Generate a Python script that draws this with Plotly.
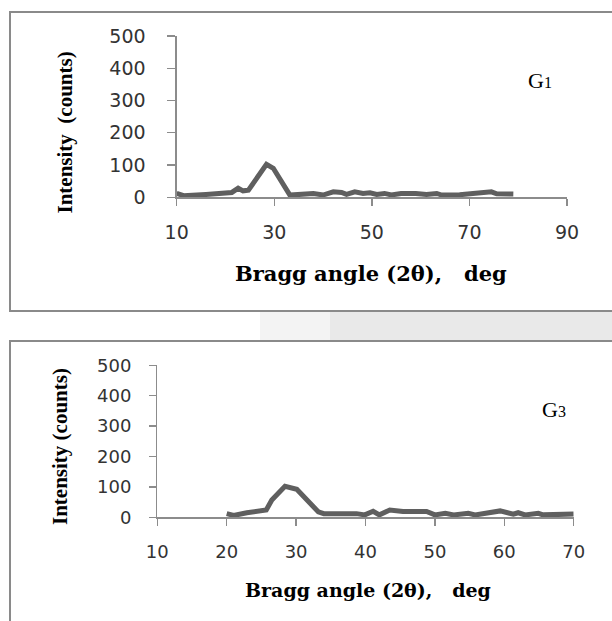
import plotly.graph_objects as go

# ---- data ----
g1_angle = [10, 11.4, 16, 21.3, 22.6, 23.6, 24.7, 26.4, 28.4, 29.8, 31.2, 33.2, 38, 40,
            42.1, 43.8, 44.8, 46.5, 48.2, 49.6, 51, 52.6, 54, 56, 59, 61.2, 63.3, 64.3,
            68, 71.5, 73.5, 74.5, 75.6, 79]
g1_counts = [12, 5, 9, 15, 28, 20, 22, 59, 102, 90, 54, 7, 12, 7,
             17, 15, 9, 17, 12, 14, 9, 12, 7, 12, 12, 9, 12, 7,
             8, 11, 14, 17, 11, 10]

g3_angle = [20, 21, 22.9, 24.3, 25.7, 26.5, 28.4, 30.1, 31.5, 33.2, 34, 37.8, 38.7, 39.9,
            41.1, 42, 43.5, 45.4, 48.8, 50, 51.5, 52.7, 54.8, 55.8, 57.9, 59.4, 61.3, 62,
            63, 64.9, 65.6, 70]
g3_counts = [12, 6, 15, 21, 24, 57, 102, 92, 57, 18, 12, 13, 12, 8,
             20, 8, 24, 19, 19, 8, 13, 8, 13, 8, 15, 21, 10, 15,
             8, 13, 8, 11]

top_xticks = [10, 30, 50, 70, 90]
bottom_xticks = [10, 20, 30, 40, 50, 60, 70]
yticks = [0, 100, 200, 300, 400, 500]

x_title = "Bragg angle (2θ),\u00a0\u00a0 deg"
y_title_top = "Intensity\u00a0 (counts)"
y_title_bottom = "Intensity (counts)"

W, H = 612, 621
def px(x):
    return x / W
def py(y):
    return 1 - y / H

LINE = "#5f5f5f"
AX = "#8c8c8c"
TICKFONT = "DejaVu Sans"

fig = go.Figure()
fig.add_trace(go.Scatter(x=g1_angle, y=g1_counts, mode="lines",
                         line=dict(color=LINE, width=5), xaxis="x", yaxis="y",
                         showlegend=False, hoverinfo="skip"))
fig.add_trace(go.Scatter(x=g3_angle, y=g3_counts, mode="lines",
                         line=dict(color=LINE, width=5), xaxis="x2", yaxis="y2",
                         showlegend=False, hoverinfo="skip"))

common_axis = dict(showgrid=False, zeroline=False, showline=True, linecolor=AX,
                   linewidth=1.3, ticks="outside", tickcolor=AX, tickwidth=1.3,
                   automargin=False, fixedrange=True)

fig.update_layout(
    width=W, height=H, autosize=False, showlegend=False,
    margin=dict(l=0, r=0, t=0, b=0, pad=0, autoexpand=False),
    paper_bgcolor="white", plot_bgcolor="rgba(0,0,0,0)",
    xaxis=dict(domain=[px(176.7), px(567)], range=[10, 90], tickvals=top_xticks,
               ticklen=7, ticklabelstandoff=11,
               tickfont=dict(family=TICKFONT, size=19, color="#333"),
               anchor="y", **common_axis),
    yaxis=dict(domain=[py(197.3), py(36)], range=[0, 500], tickvals=yticks,
               ticklen=8, ticklabelstandoff=18,
               tickfont=dict(family=TICKFONT, size=19, color="#333"),
               anchor="x", **common_axis),
    xaxis2=dict(domain=[px(157.3), px(573.7)], range=[10, 70], tickvals=bottom_xticks,
                ticklen=7, ticklabelstandoff=11,
                tickfont=dict(family=TICKFONT, size=18, color="#333"),
                anchor="y2", **common_axis),
    yaxis2=dict(domain=[py(517.3), py(365.3)], range=[0, 500], tickvals=yticks,
                ticklen=7, ticklabelstandoff=14,
                tickfont=dict(family=TICKFONT, size=18, color="#333"),
                anchor="x2", **common_axis),
)

# frames and faint watermark band between panels
shapes = [
    dict(type="rect", xref="paper", yref="paper", x0=px(260), x1=px(330), y0=py(340), y1=py(312),
         fillcolor="#f3f3f3", line=dict(width=0), layer="below"),
    dict(type="rect", xref="paper", yref="paper", x0=px(330), x1=1.05, y0=py(340), y1=py(312),
         fillcolor="#e9e9e9", line=dict(width=0), layer="below"),
    dict(type="rect", xref="paper", yref="paper", x0=px(10), x1=1.05, y0=py(311), y1=py(12),
         line=dict(color="#8a8a8a", width=2), fillcolor="rgba(0,0,0,0)"),
    dict(type="rect", xref="paper", yref="paper", x0=px(10), x1=1.05, y0=-0.05, y1=py(341),
         line=dict(color="#8a8a8a", width=2), fillcolor="rgba(0,0,0,0)"),
]
fig.update_layout(shapes=shapes)

ann = []
# x titles
ann.append(dict(x=px(371.3), y=py(273.7), xref="paper", yref="paper", text=x_title,
                showarrow=False, xanchor="center", yanchor="middle",
                font=dict(family="DejaVu Serif", size=21, color="black", weight="bold")))
ann.append(dict(x=px(367.7), y=py(589.7), xref="paper", yref="paper", text=x_title,
                showarrow=False, xanchor="center", yanchor="middle",
                font=dict(family="DejaVu Serif", size=19, color="black", weight="bold")))
# y titles
ann.append(dict(x=px(64), y=py(132.5), xref="paper", yref="paper", text=y_title_top,
                showarrow=False, xanchor="center", yanchor="middle", textangle=-90,
                font=dict(family="Liberation Serif", size=21, color="black", weight="bold")))
ann.append(dict(x=px(60), y=py(447), xref="paper", yref="paper", text=y_title_bottom,
                showarrow=False, xanchor="center", yanchor="middle", textangle=-90,
                font=dict(family="Liberation Serif", size=21, color="black", weight="bold")))
# sample labels
ann.append(dict(x=px(526), y=py(80), xref="paper", yref="paper",
                text='G<span style="font-size:16px">1</span>',
                showarrow=False, xanchor="left", yanchor="middle",
                font=dict(family="Liberation Serif", size=22, color="black")))
ann.append(dict(x=px(540), y=py(409), xref="paper", yref="paper",
                text='G<span style="font-size:16px">3</span>',
                showarrow=False, xanchor="left", yanchor="middle",
                font=dict(family="Liberation Serif", size=22, color="black")))
fig.update_layout(annotations=ann)

fig.write_html(
    "out.html",
    config={"displayModeBar": False, "staticPlot": True},
    post_script="document.body.style.margin='0';document.body.style.overflow='hidden';",
)
